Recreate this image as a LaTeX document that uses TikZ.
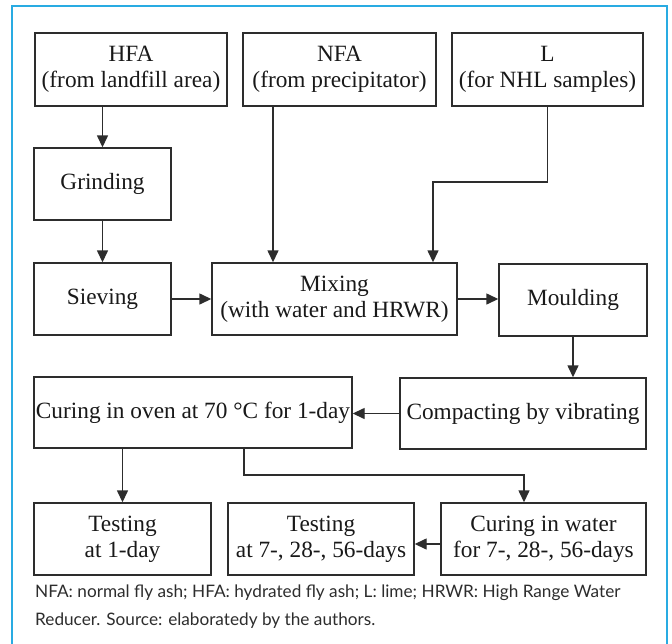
\documentclass[tikz,border=0pt]{standalone}
\usepackage{fontspec}
\setmainfont{Liberation Serif}
\newfontfamily\notefont{Lato}
\usetikzlibrary{positioning, arrows.meta, calc}

\definecolor{framecol}{RGB}{41,171,226}
\definecolor{inkcol}{RGB}{45,45,45}

\begin{document}
\begin{tikzpicture}[x=1pt, y=-1pt,
    box/.style={draw=inkcol, line width=1.4pt, align=center, inner sep=0pt,
        font=\fontsize{23.3}{26}\selectfont, text=black!90},
    flow/.style={draw=inkcol, line width=1.4pt, -{Triangle[length=12pt,width=11pt]}},
    notestyle/.style={font=\notefont\fontsize{17.2}{28}\selectfont, text=inkcol, inner sep=0pt}]
    \useasboundingbox (0,0) rectangle (672,643);
    \fill[white] (0,0) rectangle (672,643);

    % blue frame, open at the bottom
    \draw[framecol, line width=2pt] (12,650) -- (12,6) -- (667,6) -- (667,650);

    % raw materials
    \node[box, minimum width=192pt, minimum height=73pt] (hfa) at (131,69.5) {HFA\\(from landfill area)};
    \node[box, minimum width=193pt, minimum height=73pt] (nfa) at (339.5,69.5) {NFA\\(from precipitator)};
    \node[box, minimum width=191pt, minimum height=73pt] (lime) at (547.5,69.5) {L\\(for NHL samples)};

    % preparation
    \node[box, minimum width=137pt, minimum height=72pt] (grind) at (102.5,184) {Grinding};
    \node[box, minimum width=137pt, minimum height=72pt] (sieve) at (102.5,299) {Sieving};
    \node[box, minimum width=245pt, minimum height=72pt] (mix) at (334.5,299) {Mixing\\(with water and HRWR)};
    \node[box, minimum width=148pt, minimum height=72pt] (mould) at (573,300) {Moulding};

    % curing
    \node[box, minimum width=318pt, minimum height=71pt] (oven) at (193,412.5) {Curing in oven at 70 °C for 1-day};
    \node[box, minimum width=246pt, minimum height=71pt] (compact) at (523,413.5) {Compacting by vibrating};

    % testing
    \node[box, minimum width=177pt, minimum height=72pt] (test1) at (122.5,539) {Testing\\at 1-day};
    \node[box, minimum width=186pt, minimum height=72pt] (test7) at (321,539) {Testing\\at 7-, 28-, 56-days};
    \node[box, minimum width=205pt, minimum height=72pt] (water) at (543.5,539) {Curing in water\\for 7-, 28-, 56-days};

    % bend points
    \coordinate (nfadrop) at (273,0);
    \coordinate (ljog) at (433,182);
    \coordinate (ovensplit) at (244,475);
    \coordinate (wdrop) at (524,475);

    % connectors
    \draw[flow] (hfa.south -| grind.north) -- (grind.north);
    \draw[flow] (grind) -- (sieve);
    \draw[flow] (nfa.south -| nfadrop) -- (mix.north -| nfadrop);
    \draw[flow] (lime.south) |- (ljog) -- (mix.north -| ljog);
    \draw[flow] (sieve) -- (mix);
    \draw[flow] (mix.east) -- (mix.east -| mould.west);
    \draw[flow] (mould.south) -- (mould.south |- compact.north);
    \draw[flow] (compact.west) -- (compact.west -| oven.east);
    \draw[flow] (oven.south -| test1.north) -- (test1.north);
    \draw[flow] (oven.south -| ovensplit) |- (wdrop) -- (water.north -| wdrop);
    \draw[flow] ([yshift=-5pt]water.west) -- ([yshift=-5pt]test7.east);

    % note
    \node[notestyle, anchor=base west] (note1) at (35,597) {NFA: normal fly ash; HFA: hydrated fly ash; L: lime; HRWR: High Range Water};
    \node[notestyle, anchor=base west] (note2) at ($(note1.base west)+(0,28)$) {Reducer. Source: elaboratedy by the authors.};
\end{tikzpicture}
\end{document}
